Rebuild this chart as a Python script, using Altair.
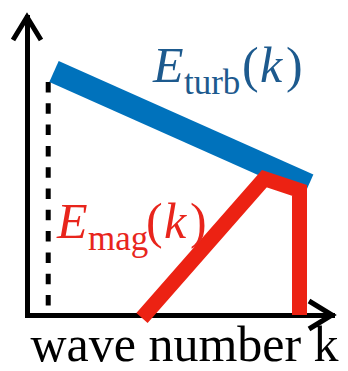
import altair as alt
import pandas as pd

# Schematic spectra, in axis units (wave number k along x, energy E along y)
turb_k = [0.974, 10.16]
turb_E = [8.99, 4.80]

mag_k = [4.147, 8.558, 9.828, 9.828]
mag_E = [-0.11, 5.03, 4.60, 0.0]

# driving-scale marker (dashed)
drive_k = [0.765, 0.765]
drive_E = [8.60, 0.35]

K_MAX = 11.0
E_MAX = 11.0

SERIF = "'Liberation Serif', 'Times New Roman', Times, serif"
BLUE_LINE = "#0072bc"
BLUE_TEXT = "#1d5a8e"
RED_LINE = "#ec2213"
RED_TEXT = "#e8251c"


def frame(ks, es):
    return pd.DataFrame({"k": ks, "E": es, "i": list(range(len(ks)))})


axis_style = dict(
    domain=True, domainColor="black", domainWidth=5, domainCap="square",
    ticks=False, labels=False, grid=False,
)

x_enc = alt.X(
    "k:Q",
    scale=alt.Scale(domain=[0, K_MAX], nice=False, zero=False),
    axis=alt.Axis(
        title="wave number k", titleFont=SERIF, titleFontSize=50,
        titleFontWeight="normal", titleColor="black",
        titleBaseline="alphabetic", titleAlign="center",
        titleX=157, titleY=45, **axis_style,
    ),
)
y_enc = alt.Y(
    "E:Q",
    scale=alt.Scale(domain=[0, E_MAX], nice=False, zero=False),
    axis=alt.Axis(title=None, **axis_style),
)

drive = alt.Chart(frame(drive_k, drive_E)).mark_line(
    color="black", strokeWidth=5, strokeDash=[10.5, 10.8], strokeCap="butt"
).encode(x=x_enc, y=y_enc, order="i:Q")

turb = alt.Chart(frame(turb_k, turb_E)).mark_line(
    color=BLUE_LINE, strokeWidth=23, strokeCap="butt"
).encode(x=x_enc, y=y_enc, order="i:Q")

mag = alt.Chart(frame(mag_k, mag_E)).mark_line(
    color=RED_LINE, strokeWidth=15, strokeCap="butt", strokeJoin="miter",
    strokeMiterLimit=10,
).encode(x=x_enc, y=y_enc, order="i:Q")

# open arrowheads at the ends of both axes
arrow_df = pd.DataFrame({"k": [K_MAX, 0.0], "E": [0.0, E_MAX], "a": [0, 270]})
arrows = alt.Chart(arrow_df).mark_point(
    shape="M -1.643 -1 L 0 0 L -1.643 1", filled=False, stroke="black",
    strokeWidth=5, strokeJoin="miter", strokeCap="butt", size=784, opacity=1,
).encode(x=x_enc, y=y_enc, angle=alt.Angle("a:Q", scale=None))


def spectrum_label(anchor_k, anchor_E, sub, color):
    pieces = [
        ("E", 0, 0, "italic", 50),
        (sub, 31, 12, "normal", 35),
        ("(", 89, 0, "normal", 50),
        ("k", 107, 0, "italic", 50),
        (")", 133, 0, "normal", 50),
    ]
    anchor = pd.DataFrame({"k": [anchor_k], "E": [anchor_E]})
    layers = []
    for text, dx, dy, style, size in pieces:
        layers.append(
            alt.Chart(anchor).mark_text(
                text=text, font=SERIF, fontStyle=style, fontSize=size,
                color=color, align="left", baseline="alphabetic", dx=dx, dy=dy,
            ).encode(x=x_enc, y=y_enc)
        )
    return layers


labels = spectrum_label(4.544, 8.60, "turb", BLUE_TEXT) + spectrum_label(
    1.082, 2.842, "mag", RED_TEXT
)

chart = alt.layer(drive, turb, mag, arrows, *labels).properties(
    width=305,
    height=298,
    autosize="none",
    padding={"left": 27, "top": 17, "right": 16, "bottom": 56},
    background="white",
).configure_view(stroke=None)

chart.save("out.html", embed_options={"renderer": "svg", "actions": False})
